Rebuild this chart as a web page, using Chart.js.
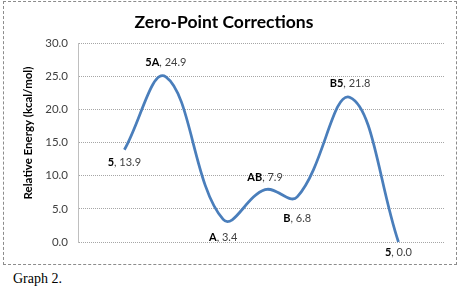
<!DOCTYPE html>
<html>
<head>
<meta charset="utf-8">
<script src="https://cdn.jsdelivr.net/npm/chart.js@4"></script>
<style>
  body { margin: 0; background: #fff; width: 458px; height: 292px; position: relative; overflow: hidden; }
  #box { position: absolute; left: 3px; top: 1px; width: 452px; height: 262px; border: 1px dashed #8c8c8c; }
  #caption { position: absolute; left: 13px; top: 271px; font-family: "Liberation Serif", "DejaVu Serif", serif; font-size: 14px; color: #000; }
</style>
</head>
<body>
<div id="box"><canvas id="zpe-chart"></canvas></div>
<div id="caption">Graph 2.</div>
<script>
// states along the path, position on the (hidden) reaction coordinate, energy
var stateNames = ["5", "5A", "A", "AB", "B", "B5", "5"];
var reactionCoord = [1.14, 2.16, 3.57, 4.6, 5.39, 6.69, 7.88];
var energies = [13.9, 24.9, 3.4, 7.9, 6.8, 21.8, 0.0];
var yTicks = [0, 5, 10, 15, 20, 25, 30];

// vertical shift of each data label from its point, px (negative = above)
var labelShift = [13, -14, 18, -12, 22, -14, 10];

var pointLabels = {
  id: 'pointLabels',
  afterDatasetsDraw: function(chart) {
    var ctx = chart.ctx;
    var pts = chart.getDatasetMeta(0).data;
    ctx.save();
    ctx.textBaseline = 'middle';
    ctx.textAlign = 'left';
    pts.forEach(function(p, i) {
      var bold = stateNames[i];
      var rest = ', ' + energies[i].toFixed(1);
      ctx.font = 'bold 11px Lato';
      var w1 = ctx.measureText(bold).width;
      ctx.font = '11px Lato';
      var w2 = ctx.measureText(rest).width;
      var x = p.x - (w1 + w2) / 2;
      var y = p.y + labelShift[i];
      ctx.font = 'bold 11px Lato';
      ctx.fillStyle = '#000';
      ctx.fillText(bold, x, y);
      ctx.font = '11px Lato';
      ctx.fillStyle = '#404040';
      ctx.fillText(rest, x + w1, y);
    });
    // axis title
    ctx.translate(24, 131);
    ctx.rotate(-Math.PI / 2);
    ctx.textAlign = 'center';
    ctx.font = 'bold 11.5px Lato';
    ctx.fillStyle = '#000';
    ctx.fillText('Relative Energy (kcal/mol)', 0, 0);
    ctx.restore();
  }
};

new Chart(document.getElementById("zpe-chart"), {
  type: 'line',
  data: {
    datasets: [{
      data: reactionCoord.map(function(x, i) { return { x: x, y: energies[i] }; }),
      borderColor: '#4a7ebb',
      borderWidth: 2.75,
      pointRadius: 0,
      tension: 0.4,
      fill: false,
      clip: false
    }]
  },
  options: {
    responsive: true,
    maintainAspectRatio: false,
    animation: false,
    events: [],
    layout: { padding: { left: 0, right: 12, top: 0, bottom: 22 } },
    plugins: {
      legend: { display: false },
      tooltip: { enabled: false },
      title: {
        display: true,
        text: 'Zero-Point Corrections',
        color: '#000',
        font: { family: 'Lato', size: 17.5, weight: 'bold' },
        padding: { top: 10, bottom: 10 }
      }
    },
    scales: {
      x: { type: 'linear', min: 0, max: 9, display: false },
      y: {
        min: 0,
        max: 30,
        afterFit: function(s) { s.width = 74; },
        afterBuildTicks: function(s) { s.ticks = yTicks.map(function(v) { return { value: v }; }); },
        ticks: {
          padding: 10,
          color: '#404040',
          font: { family: 'Lato', size: 11.5 },
          callback: function(v) { return v.toFixed(1); }
        },
        grid: { color: '#a6a6a6', lineWidth: 1, drawTicks: false },
        border: { display: true, color: '#bfbfbf', dash: [1, 1] }
      }
    }
  },
  plugins: [pointLabels]
});
</script>
</body>
</html>
